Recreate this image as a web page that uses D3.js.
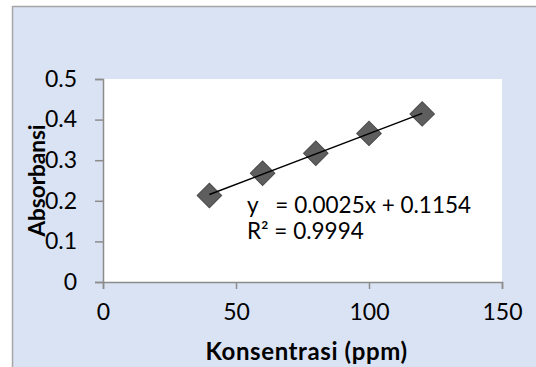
<!DOCTYPE html>
<html>
<head>
<meta charset="utf-8">
<script src="https://cdn.jsdelivr.net/npm/d3@7"></script>
<style>
  body { margin: 0; background: #fff; }
  svg { display: block; font-family: Lato, "Open Sans", sans-serif; }
</style>
</head>
<body>
<svg id="chart" width="536" height="367"></svg>
<script>
// data
const konsentrasi = [40, 60, 80, 100, 120];
const absorbansi = [0.213, 0.268, 0.317, 0.366, 0.414];
const slope = 0.0025;
const intercept = 0.1154;
const rSquared = 0.9994;
const xTicks = [0, 50, 100, 150];
const yTicks = [0, 0.1, 0.2, 0.3, 0.4, 0.5];

const svg = d3.select('#chart');
const plot = { left: 103, right: 502, top: 79, bottom: 282 };

const x = d3.scaleLinear().domain([0, 150]).range([plot.left, plot.right]);
const y = d3.scaleLinear().domain([0, 0.5]).range([plot.bottom, plot.top]);

// chart area with its frame
svg.append('rect')
    .attr('x', 12.5).attr('y', 6.5)
    .attr('width', 540).attr('height', 380)
    .attr('fill', '#dae3f3')
    .attr('stroke', '#a6a6a6')
    .attr('stroke-width', 1.5);

svg.append('rect')
    .attr('x', plot.left).attr('y', plot.top)
    .attr('width', plot.right - plot.left)
    .attr('height', plot.bottom - plot.top)
    .attr('fill', '#ffffff');

// axes
const xAxis = svg.append('g')
    .attr('transform', `translate(0,${plot.bottom})`)
    .call(d3.axisBottom(x).tickValues(xTicks).tickSize(7).tickPadding(15).tickFormat(d3.format('d')));

const yAxis = svg.append('g')
    .attr('transform', `translate(${plot.left},0)`)
    .call(d3.axisLeft(y).tickValues(yTicks).tickSize(8).tickPadding(18)
        .tickFormat(d => d === 0 ? '0' : d3.format('.1f')(d)));

[xAxis, yAxis].forEach(g => {
    g.select('.domain').attr('stroke', '#8c8c8c').attr('stroke-width', 1.5);
    g.selectAll('.tick line').attr('stroke', '#8c8c8c').attr('stroke-width', 1.5);
    g.selectAll('.tick text')
        .attr('font-family', 'Lato, sans-serif')
        .attr('font-size', 23)
        .attr('fill', '#000');
});

// markers
const points = konsentrasi.map((k, i) => ({ k, a: absorbansi[i] }));
const diamond = d3.symbol().type(d3.symbolSquare).size(300);

svg.selectAll('.pt')
    .data(points)
    .join('path')
    .attr('class', 'pt')
    .attr('d', diamond)
    .attr('transform', d => `translate(${x(d.k)},${y(d.a)}) rotate(45)`)
    .attr('fill', '#5e5e5e')
    .attr('stroke', '#4a4a4a')
    .attr('stroke-width', 1);

// trendline over the markers
svg.append('line')
    .attr('x1', x(konsentrasi[0]))
    .attr('y1', y(slope * konsentrasi[0] + intercept))
    .attr('x2', x(konsentrasi[konsentrasi.length - 1]))
    .attr('y2', y(slope * konsentrasi[konsentrasi.length - 1] + intercept))
    .attr('stroke', '#000')
    .attr('stroke-width', 1.5);

// equation, two separate lines
const eqLines = [`y   = ${slope}x + ${intercept}`, `R² = ${rSquared}`];
svg.selectAll('.eq')
    .data(eqLines)
    .join('text')
    .attr('class', 'eq')
    .attr('x', 247)
    .attr('y', (d, i) => 213 + i * 26)
    .attr('font-size', 22.5)
    .attr('fill', '#000')
    .style('white-space', 'pre')
    .text(d => d);

// axis titles
svg.append('text')
    .attr('x', (plot.left + plot.right) / 2 + 4)
    .attr('y', 360)
    .attr('text-anchor', 'middle')
    .attr('font-size', 24)
    .attr('font-weight', 'bold')
    .attr('letter-spacing', 0.6)
    .text('Konsentrasi (ppm)');

svg.append('text')
    .attr('transform', `translate(45,${(plot.top + plot.bottom) / 2}) rotate(-90)`)
    .attr('text-anchor', 'middle')
    .attr('font-size', 22.5)
    .attr('font-weight', 'bold')
    .text('Absorbansi');
</script>
</body>
</html>
